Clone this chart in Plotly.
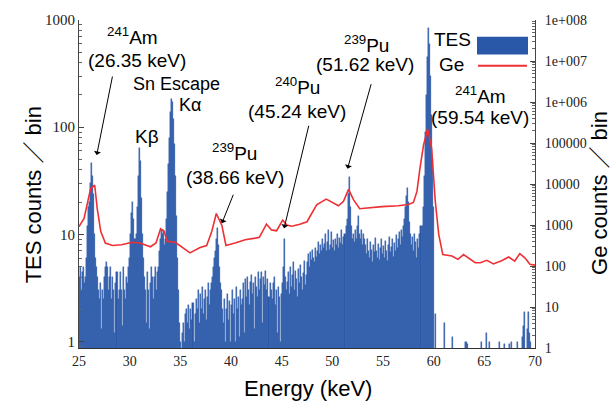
import math
import plotly.graph_objects as go

# ---------------- data ----------------
BIN = 0.1  # keV per TES bin
tes_25_30 = [4, 5, 3, 4.5, 5, 3.5, 4, 6, 12, 18,
             20, 30, 46, 35, 24, 10, 6, 5, 4, 3,
             2.5, 3.5, 1.3, 3, 2.5, 4, 5, 5.5, 5, 3,
             4, 5, 2.5, 4, 3, 1.2, 3.5, 4.5, 2.5, 3,
             4.5, 3, 1.4, 5, 3, 2.5, 4, 3.5, 5, 6]
tes_30_35 = [10, 16, 20, 14, 9, 9, 10, 18, 35, 64,
             48, 22, 10, 6, 4, 3, 1.5, 4.5, 3, 1.3,
             3.5, 5, 4, 2.5, 4, 5, 3, 4.5, 5, 7,
             9, 11, 10, 11, 8, 9, 14, 25, 45, 80,
             140, 185, 170, 120, 70, 35, 15, 6, 3, 1.5]
tes_35_40 = [1, 0, 1.2, 1.5, 1, 1.8, 2, 1.5, 2.2, 1.3,
             2, 1.6, 2.3, 1, 1.8, 2.5, 2, 3, 1.5, 2.8,
             2, 3.2, 1.8, 2.5, 3, 1.6, 2.6, 3.5, 2.2, 3,
             3.5, 4, 5, 6, 7, 9, 11.5, 8, 5, 3.5,
             3, 2, 1.5, 2.5, 1, 2, 2.8, 1.6, 2.4, 1]
tes_40_45 = [2.2, 3, 1.8, 2.5, 1, 3.2, 2, 2.6, 1.1, 3,
             2.2, 2.5, 3.5, 1.2, 3.8, 2.6, 4, 3, 2.2, 3.6,
             4.2, 2.8, 3.5, 1.3, 4, 3.2, 2.6, 4.5, 3, 3.8,
             4.5, 1.5, 4, 3.4, 4.6, 3, 3.8, 2.6, 3.5, 3,
             2.5, 3.5, 4, 2.2, 3, 1.2, 3.2, 2.6, 1, 2.8]
tes_45_50 = [3.5, 5, 9, 4, 3, 3.6, 4.5, 2.8, 5, 3.2,
             4.2, 5.5, 3, 4.6, 3.8, 2.6, 4.8, 3.5, 5.2, 4,
             3, 4.4, 5.6, 3.4, 4.2, 5.5, 6.5, 5, 6.8, 5.8,
             7.2, 6, 5.5, 7.5, 6.2, 7, 8.5, 6.5, 8, 7,
             9, 7.5, 8.2, 10, 7, 8.5, 11, 7.2, 8, 10.5]
tes_50_55 = [7.5, 8.8, 7, 9, 8, 10, 7.5, 9.2, 8.3, 11,
             8, 9.5, 10, 12, 14, 24, 34, 18, 12, 9,
             10, 8.5, 11, 9, 12, 15, 10, 9, 11, 8,
             10, 9, 8, 6.5, 9, 7, 6, 8.5, 7.2, 5.5,
             8, 6.8, 9.2, 7, 6, 8.2, 5.8, 7.5, 9, 6.5]
tes_55_60 = [7.8, 6, 8.6, 7, 5.6, 8, 9.5, 6.8, 7.6, 9,
             6.2, 8.4, 7, 9.8, 7.4, 9, 10.5, 8, 11, 9.5,
             12, 14, 18, 23, 27, 20, 13, 10, 8, 9.5,
             7, 10, 8.5, 6, 9, 7.5, 10, 12, 12, 18,
             35, 90, 200, 450, 850, 600, 300, 130, 50, 18]
tes_60_65 = [0, 1.8, 0, 0, 0, 0, 0, 0, 0, 0,
             1.5, 0, 0, 0, 0, 0, 0, 0, 1.1, 0,
             0, 0, 0, 0, 0, 0, 0, 0, 0, 0,
             0, 1, 1, 0.95, 0, 0, 0, 0, 0, 0,
             0, 0, 0, 0, 0, 0, 0, 1, 0, 0]
tes_65_70 = [0, 0, 1.2, 0, 0, 1, 0, 0, 0, 0,
             0, 0, 0, 0, 1, 0, 0, 0, 0, 0.95,
             0, 0, 0, 0, 0.95, 0, 1, 0, 0, 0,
             0, 0, 1, 0, 0, 0, 0, 1.1, 1.4, 1.9,
             0, 0, 1.3, 1.9, 1.2, 1, 0, 0, 0, 0]

ge_energy = [25.0, 25.5, 26.15, 26.55, 26.8, 27.15, 27.6, 28.3, 29.2, 30.25,
             31.0, 32.05, 32.6, 33.05, 33.4, 33.7, 34.5, 35.95, 36.95, 37.6,
             38.1, 38.55, 39.1, 39.5, 40.4, 41.4, 42.4, 42.8, 43.5, 44.0,
             44.5, 45.1, 45.5, 46.0, 46.8, 47.5, 48.45, 49.4, 50.6, 51.1,
             51.6, 52.1, 52.7, 53.4, 54.9, 56.5, 57.5, 58.0, 58.35, 58.65,
             59.0, 59.4, 59.8, 60.15, 60.5, 60.9, 61.8, 62.4, 62.95, 64.1,
             64.6, 65.25, 65.9, 66.7, 67.4, 68.0, 68.5, 69.0, 69.5, 70.0]
ge_counts = [912, 1445, 7760, 9330, 2510, 692, 363, 316, 331, 380,
             363, 295, 363, 813, 708, 398, 380, 209, 282, 316,
             692, 1905, 977, 316, 363, 437, 479, 501, 1047, 759,
             724, 1318, 1000, 933, 1047, 1200, 3090, 4270, 2950, 3800,
             7400, 4100, 2500, 2600, 2800, 2950, 3150, 3550, 6600, 24500,
             89000, 220000, 74000, 4000, 590, 190, 175, 145, 190, 120,
             120, 138, 112, 135, 166, 132, 200, 158, 110, 105]

x_ticks = [25, 30, 35, 40, 45, 50, 55, 60, 65, 70]
tes_ticks = [1, 10, 100, 1000]
ge_ticks = [1, 10, 100, 1000, 10000, 100000, 1e6, 1e7, 1e8]
ge_tick_text = ["1", "10", "100", "1000", "10000", "100000", "1e+006", "1e+007", "1e+008"]

tes_counts = (tes_25_30 + tes_30_35 + tes_35_40 + tes_40_45 + tes_45_50
              + tes_50_55 + tes_55_60 + tes_60_65 + tes_65_70)
tes_energy = [round(25.0 + BIN * (i + 0.5), 3) for i in range(len(tes_counts))]
tes_plot = [c if c > 0 else None for c in tes_counts]

BLUE = "rgb(42,88,168)"
RED = "rgb(238,48,52)"
SANS = "Liberation Sans, Arial, Noto Sans CJK JP, sans-serif"
SERIF = "Liberation Serif, Times New Roman, serif"

# ---------------- geometry (px) ----------------
W, H = 611, 401
L, R, T, B = 79, 535, 16, 348


def px(x, y):
    return (x - L) / (R - L), (B - y) / (B - T)


fig = go.Figure()
fig.add_trace(go.Bar(x=tes_energy, y=tes_plot, width=BIN, marker=dict(color=BLUE, line=dict(width=0.4, color=BLUE)),
                     name="TES", showlegend=False, yaxis="y"))
fig.add_trace(go.Scatter(x=ge_energy, y=ge_counts, mode="lines", line=dict(color=RED, width=1.6),
                         name="Ge", showlegend=False, yaxis="y2"))

annotations = []
labels = [
    ("<sup>241</sup>Am", 132, 32, 19),
    ("(26.35 keV)", 136.5, 56.5, 19),
    ("Sn Escape", 176.5, 80.5, 18),
    ("Kα", 190, 102.5, 18),
    ("Kβ", 146.5, 133.5, 19),
    ("<sup>239</sup>Pu", 234, 150, 19),
    ("(38.66 keV)", 235, 175, 19),
    ("<sup>240</sup>Pu", 297.5, 83, 19),
    ("(45.24 keV)", 296.5, 108.5, 19),
    ("<sup>239</sup>Pu", 366, 40, 19),
    ("(51.62 keV)", 365, 61, 19),
    ("<sup>241</sup>Am", 480, 92, 19),
    ("(59.54 keV)", 480, 115, 19),
    ("TES", 452, 36, 19),
    ("Ge", 451.5, 61.5, 19),
]
for txt, cx, cy, fs in labels:
    xp, yp = px(cx, cy)
    annotations.append(dict(text=txt, x=xp, y=yp, xref="paper", yref="paper", showarrow=False,
                            xanchor="center", yanchor="middle", font=dict(family=SANS, size=fs, color="black")))

arrows = [  # head (energy, TES counts), tail offset px
    (26.75, 55, 16, -80),
    (39.1, 12.7, 12, -30),
    (45.24, 11.4, 25, -104),
    (51.5, 41, 24, -86),
]
for ex, cy, axo, ayo in arrows:
    annotations.append(dict(text="", x=ex, y=math.log10(cy), xref="x", yref="y", showarrow=True,
                            ax=axo, ay=ayo, arrowhead=1, arrowsize=1.2, arrowwidth=1, arrowcolor="black"))

# axis titles
xp, yp = px(307.5, 389)
annotations.append(dict(text="Energy (keV)", x=xp, y=yp, xref="paper", yref="paper", showarrow=False,
                        xanchor="center", yanchor="middle", font=dict(family=SANS, size=22, color="black")))
xp, yp = px(33.5, 193)
annotations.append(dict(text="TES counts ／ bin", x=xp, y=yp, xref="paper", yref="paper", showarrow=False,
                        textangle=-90, xanchor="center", yanchor="middle", font=dict(family=SANS, size=22, color="black")))
xp, yp = px(600, 191)
annotations.append(dict(text="Ge counts ／ bin", x=xp, y=yp, xref="paper", yref="paper", showarrow=False,
                        textangle=-90, xanchor="center", yanchor="middle", font=dict(family=SANS, size=22, color="black")))

# legend swatches
x0, y0 = px(477, 51)
x1, y1 = px(528, 33)
shapes = [dict(type="rect", xref="paper", yref="paper", x0=x0, x1=x1, y0=y0, y1=y1,
               fillcolor=BLUE, line=dict(width=0))]
x0, yl = px(478, 62.3)
x1, _ = px(527, 62.3)
shapes.append(dict(type="line", xref="paper", yref="paper", x0=x0, x1=x1, y0=yl, y1=yl,
                   line=dict(color=RED, width=2)))

fig.update_layout(
    width=W, height=H,
    margin=dict(l=L, r=W - R, t=T, b=H - B, pad=0),
    paper_bgcolor="white", plot_bgcolor="white",
    bargap=0, barmode="overlay",
    annotations=annotations, shapes=shapes,
    xaxis=dict(range=[25, 70], tickvals=x_ticks, ticks="", showline=True, linecolor="#333", linewidth=1,
               showgrid=False, zeroline=False, tickfont=dict(family=SERIF, size=14, color="#222")),
    yaxis=dict(type="log", range=[-0.06, 3.0], tickvals=tes_ticks, ticktext=[str(v) for v in tes_ticks],
               ticks="inside", ticklen=5, tickcolor="#444", showline=True, linecolor="#444", linewidth=1,
               showgrid=False, zeroline=False, tickfont=dict(family=SERIF, size=15, color="#222"),
               minor=dict(ticks="inside", ticklen=3, tickcolor="#666", dtick="D1", showgrid=False)),
    yaxis2=dict(type="log", range=[0, 8], overlaying="y", side="right", tickvals=ge_ticks, ticktext=ge_tick_text,
                ticks="inside", ticklen=5, tickcolor="#444", showline=True, linecolor="#444", linewidth=1,
                showgrid=False, zeroline=False, tickfont=dict(family=SERIF, size=14, color="#222"),
                ticklabelstandoff=6,
                minor=dict(ticks="inside", ticklen=3, tickcolor="#666", dtick="D1", showgrid=False)),
)

fig.write_html("out.html")
